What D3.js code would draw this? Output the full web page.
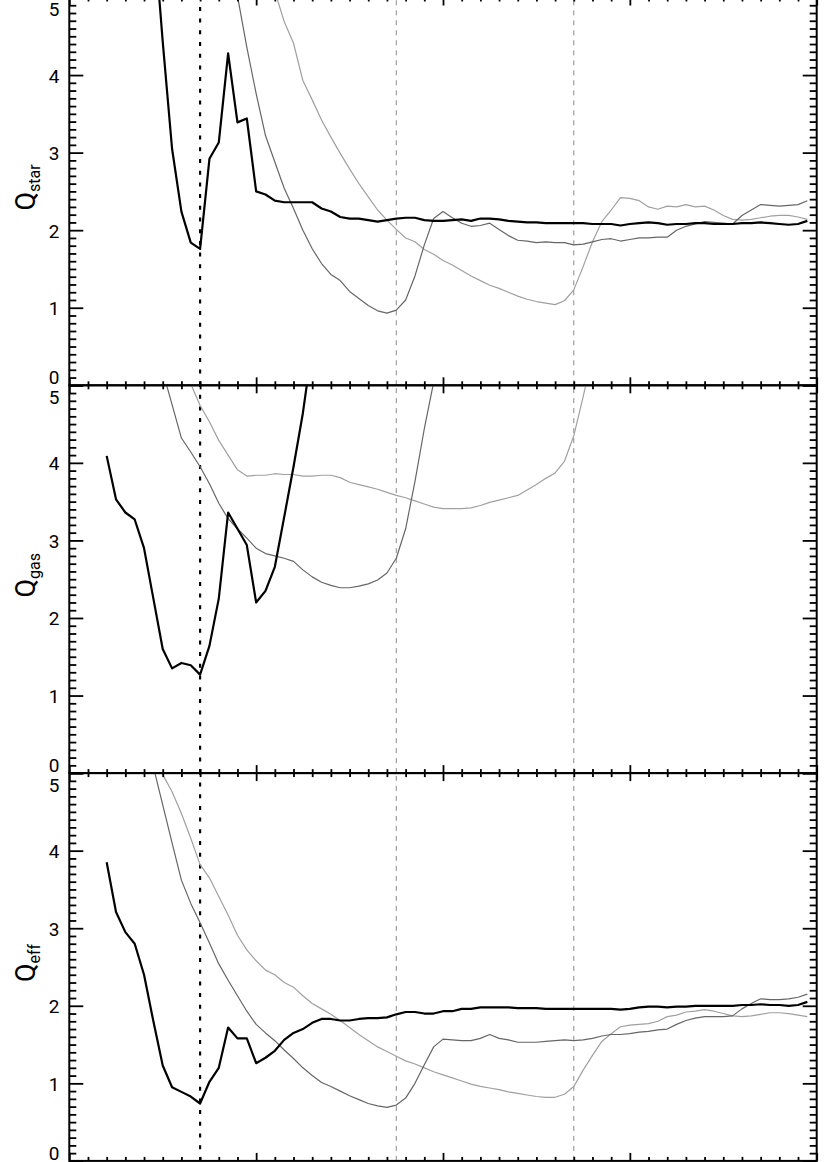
<!DOCTYPE html>
<html>
<head>
<meta charset="utf-8">
<script src="https://cdn.jsdelivr.net/npm/d3@7"></script>
<style>
  body { margin: 0; background: #fff; }
  svg { display: block; }
  text { font-family: Roboto, "DejaVu Sans", sans-serif; fill: #000; }
</style>
</head>
<body>
<svg id="chart" width="830" height="1162"></svg>
<script>
// radius grid shared by all runs (no x labels in the figure, so arbitrary units)
const radius = [2, 2.5, 3, 3.5, 4, 4.5, 5, 5.5, 6, 6.5,
  7, 7.5, 8, 8.5, 9, 9.5, 10, 10.5, 11, 11.5,
  12, 12.5, 13, 13.5, 14, 14.5, 15, 15.5, 16, 16.5,
  17, 17.5, 18, 18.5, 19, 19.5, 20, 20.5, 21, 21.5,
  22, 22.5, 23, 23.5, 24, 24.5, 25, 25.5, 26, 26.5,
  27, 27.5, 28, 28.5, 29, 29.5, 30, 30.5, 31, 31.5,
  32, 32.5, 33, 33.5, 34, 34.5, 35, 35.5, 36, 36.5,
  37, 37.5, 38, 38.5, 39, 39.5];

// Q_star
const qStar1 = [null, null, null, null, null, 5.95, 4.43, 3.05, 2.24, 1.84,
  1.76, 2.92, 3.13, 4.28, 3.39, 3.44, 2.50, 2.46, 2.38, 2.36,
  2.36, 2.36, 2.36, 2.28, 2.24, 2.17, 2.15, 2.15, 2.13, 2.11,
  2.13, 2.15, 2.16, 2.16, 2.13, 2.12, 2.12, 2.13, 2.14, 2.12,
  2.15, 2.15, 2.14, 2.12, 2.11, 2.10, 2.10, 2.09, 2.09, 2.09,
  2.09, 2.09, 2.08, 2.08, 2.08, 2.06, 2.08, 2.09, 2.10, 2.09,
  2.07, 2.08, 2.08, 2.09, 2.09, 2.08, 2.08, 2.08, 2.09, 2.09,
  2.10, 2.09, 2.08, 2.07, 2.08, 2.12];
const qStar2 = [null, null, null, null, null, null, null, null, null, null,
  null, null, null, 5.6, 5.02, 4.36, 3.76, 3.22, 2.88, 2.54,
  2.28, 2.00, 1.76, 1.57, 1.43, 1.35, 1.21, 1.12, 1.03, 0.96,
  0.93, 0.97, 1.10, 1.41, 1.81, 2.15, 2.24, 2.16, 2.09, 2.05,
  2.06, 2.09, 2.01, 1.93, 1.87, 1.86, 1.84, 1.85, 1.84, 1.84,
  1.81, 1.82, 1.85, 1.88, 1.89, 1.86, 1.88, 1.90, 1.90, 1.91,
  1.91, 2.00, 2.05, 2.08, 2.11, 2.10, 2.09, 2.08, 2.19, 2.26,
  2.33, 2.32, 2.31, 2.32, 2.33, 2.38];
const qStar3 = [null, null, null, null, null, null, null, null, null, null,
  null, null, null, null, null, null, null, 5.5, 5.08, 4.69,
  4.41, 3.93, 3.68, 3.42, 3.20, 2.99, 2.79, 2.60, 2.43, 2.26,
  2.13, 2.01, 1.90, 1.85, 1.75, 1.69, 1.61, 1.55, 1.48, 1.41,
  1.35, 1.29, 1.25, 1.20, 1.15, 1.11, 1.08, 1.06, 1.04, 1.09,
  1.23, 1.53, 1.85, 2.11, 2.26, 2.42, 2.41, 2.38, 2.30, 2.27,
  2.31, 2.30, 2.33, 2.30, 2.31, 2.26, 2.19, 2.14, 2.13, 2.14,
  2.16, 2.18, 2.19, 2.19, 2.17, 2.14];

// Q_gas
const qGas1 = [4.09, 3.53, 3.36, 3.27, 2.90, 2.25, 1.60, 1.35, 1.42, 1.39,
  1.27, 1.64, 2.25, 3.36, 3.15, 2.94, 2.20, 2.35, 2.66, 3.30,
  3.95, 4.64, 5.5];
const qGas2 = [null, null, null, null, null, null, 5.18, 4.75, 4.32, 4.14,
  3.95, 3.73, 3.48, 3.28, 3.15, 3.03, 2.90, 2.83, 2.80, 2.77,
  2.73, 2.62, 2.53, 2.46, 2.42, 2.39, 2.39, 2.41, 2.44, 2.49,
  2.58, 2.77, 3.15, 3.76, 4.44, 5.04, 5.7];
const qGas3 = [null, null, null, null, null, null, null, null, 5.3, 5.02,
  4.74, 4.53, 4.29, 4.10, 3.91, 3.83, 3.84, 3.84, 3.86, 3.85,
  3.85, 3.83, 3.83, 3.84, 3.84, 3.81, 3.75, 3.72, 3.69, 3.66,
  3.62, 3.58, 3.55, 3.51, 3.47, 3.43, 3.41, 3.41, 3.41, 3.42,
  3.45, 3.49, 3.52, 3.55, 3.58, 3.65, 3.72, 3.80, 3.87, 4.02,
  4.35, 4.85, 5.4];

// Q_eff
const qEff1 = [3.85, 3.21, 2.95, 2.80, 2.40, 1.80, 1.23, 0.95, 0.89, 0.83,
  0.74, 1.02, 1.20, 1.72, 1.58, 1.58, 1.26, 1.33, 1.42, 1.56,
  1.65, 1.70, 1.78, 1.83, 1.83, 1.81, 1.81, 1.83, 1.84, 1.84,
  1.85, 1.89, 1.92, 1.92, 1.90, 1.90, 1.93, 1.93, 1.96, 1.96,
  1.98, 1.98, 1.98, 1.98, 1.97, 1.97, 1.97, 1.96, 1.96, 1.96,
  1.96, 1.96, 1.96, 1.96, 1.96, 1.95, 1.96, 1.98, 1.99, 1.99,
  1.98, 1.99, 1.99, 2.00, 2.00, 2.00, 2.00, 2.00, 2.01, 2.01,
  2.02, 2.01, 2.01, 2.00, 2.01, 2.05];
const qEff2 = [null, null, null, null, null, 5.08, 4.59, 4.10, 3.62, 3.32,
  3.07, 2.81, 2.54, 2.33, 2.13, 1.93, 1.76, 1.65, 1.55, 1.43,
  1.32, 1.20, 1.10, 1.01, 0.96, 0.90, 0.84, 0.79, 0.74, 0.71,
  0.69, 0.72, 0.81, 1.00, 1.24, 1.47, 1.57, 1.56, 1.55, 1.55,
  1.58, 1.63, 1.58, 1.56, 1.53, 1.53, 1.53, 1.54, 1.55, 1.56,
  1.55, 1.56, 1.58, 1.61, 1.63, 1.63, 1.64, 1.66, 1.67, 1.69,
  1.70, 1.76, 1.81, 1.84, 1.86, 1.86, 1.86, 1.87, 1.96, 2.03,
  2.09, 2.08, 2.08, 2.09, 2.11, 2.15];
const qEff3 = [null, null, null, null, null, 5.2, 4.98, 4.76, 4.48, 4.16,
  3.82, 3.65, 3.41, 3.17, 2.91, 2.72, 2.58, 2.46, 2.40, 2.30,
  2.24, 2.13, 2.03, 1.96, 1.89, 1.81, 1.72, 1.63, 1.55, 1.47,
  1.41, 1.35, 1.29, 1.25, 1.20, 1.15, 1.11, 1.07, 1.03, 0.99,
  0.96, 0.94, 0.92, 0.89, 0.87, 0.85, 0.83, 0.82, 0.82, 0.86,
  0.96, 1.17, 1.36, 1.54, 1.64, 1.73, 1.75, 1.76, 1.77, 1.80,
  1.86, 1.88, 1.92, 1.93, 1.95, 1.93, 1.90, 1.87, 1.86, 1.87,
  1.89, 1.91, 1.91, 1.90, 1.88, 1.86];

const panelSubs = ["star", "gas", "eff"];
const yTicks = [0, 1, 2, 3, 4, 5];
const markerRadius = [7, 17.5, 27];

const panels = [
  [qStar1, qStar2, qStar3],
  [qGas1, qGas2, qGas3],
  [qEff1, qEff2, qEff3]
];

// geometry
const left = 69.3, right = 816.7, top0 = -2.5, panelH = 387.8;

const svg = d3.select("#chart");
const x = d3.scaleLinear().domain([0, 40]).range([left, right]);

const runStyle = [
  { color: "#000", width: 2.2 },
  { color: "#666", width: 1.2 },
  { color: "#a0a0a0", width: 1.2 }
];
const markStyle = [
  { color: "#000", width: 2.2, dash: "4,7.7" },
  { color: "#8a8a8a", width: 1, dash: "5,5" },
  { color: "#8a8a8a", width: 1, dash: "5,5" }
];

const xMinor = d3.range(0, 41).filter(d => d % 10 !== 0);
const xMajor = [0, 10, 20, 30, 40];
const yMinor = d3.range(0, 51).filter(d => d % 10 !== 0).map(d => d / 10);

function tickAxis(g, axis) {
  g.call(axis);
  g.select(".domain").remove();
  g.selectAll("line").attr("stroke", "#000").attr("stroke-width", 1.8);
  g.selectAll("text").remove();
}

panels.forEach((series, i) => {
  const y0 = top0 + i * panelH, y1 = y0 + panelH;
  const y = d3.scaleLinear().domain([0, 5]).range([y1, y0]);
  const g = svg.append("g");

  g.append("clipPath").attr("id", "clip" + i)
    .append("rect").attr("x", left).attr("y", y0)
    .attr("width", right - left).attr("height", panelH);

  const plot = g.append("g").attr("clip-path", "url(#clip" + i + ")");

  // resonance markers
  markerRadius.forEach((r, k) => {
    plot.append("line")
      .attr("x1", x(r)).attr("x2", x(r))
      .attr("y1", y(0)).attr("y2", y(5))
      .attr("stroke", markStyle[k].color)
      .attr("stroke-width", markStyle[k].width)
      .attr("stroke-dasharray", markStyle[k].dash);
  });

  const line = d3.line()
    .defined(d => d[1] != null)
    .x(d => x(d[0]))
    .y(d => y(d[1]));

  // draw light runs first so the thick line stays on top
  [2, 1, 0].forEach(k => {
    const pts = series[k].map((v, j) => [radius[j], v]);
    plot.append("path")
      .attr("d", line(pts))
      .attr("fill", "none")
      .attr("stroke", runStyle[k].color)
      .attr("stroke-width", runStyle[k].width)
      .attr("stroke-linejoin", "round");
  });

  // ticks on all four sides
  tickAxis(g.append("g").attr("transform", `translate(${left},0)`),
    d3.axisRight(y).tickValues(yMinor).tickSize(7));
  tickAxis(g.append("g").attr("transform", `translate(${left},0)`),
    d3.axisRight(y).tickValues(yTicks).tickSize(14));
  tickAxis(g.append("g").attr("transform", `translate(${right},0)`),
    d3.axisLeft(y).tickValues(yMinor).tickSize(7));
  tickAxis(g.append("g").attr("transform", `translate(${right},0)`),
    d3.axisLeft(y).tickValues(yTicks).tickSize(14));
  tickAxis(g.append("g").attr("transform", `translate(0,${y1})`),
    d3.axisTop(x).tickValues(xMinor).tickSize(4));
  tickAxis(g.append("g").attr("transform", `translate(0,${y1})`),
    d3.axisTop(x).tickValues(xMajor).tickSize(8));
  tickAxis(g.append("g").attr("transform", `translate(0,${y0})`),
    d3.axisBottom(x).tickValues(xMinor).tickSize(4));
  tickAxis(g.append("g").attr("transform", `translate(0,${y0})`),
    d3.axisBottom(x).tickValues(xMajor).tickSize(8));

  g.append("rect")
    .attr("x", left).attr("y", y0)
    .attr("width", right - left).attr("height", panelH)
    .attr("fill", "none").attr("stroke", "#000").attr("stroke-width", 2);

  // tick labels (0 lifted, 5 dropped so neighbouring panels don't collide)
  g.selectAll(".ylab").data(yTicks).enter().append("text")
    .attr("class", "ylab")
    .attr("x", 54)
    .attr("y", d => y(d) + (d === 0 ? -7.5 : d === 5 ? 12 : 1))
    .attr("text-anchor", "middle")
    .attr("dominant-baseline", "central")
    .attr("font-size", 19)
    .text(d => d);

  // axis title
  const t = g.append("text")
    .attr("transform", `translate(35,${(y0 + y1) / 2 - 4}) rotate(-90)`)
    .attr("text-anchor", "middle")
    .attr("font-size", 27);
  t.append("tspan").text("Q");
  t.append("tspan").attr("font-size", 16).attr("dy", 5).text(panelSubs[i]);
});
</script>
</body>
</html>
